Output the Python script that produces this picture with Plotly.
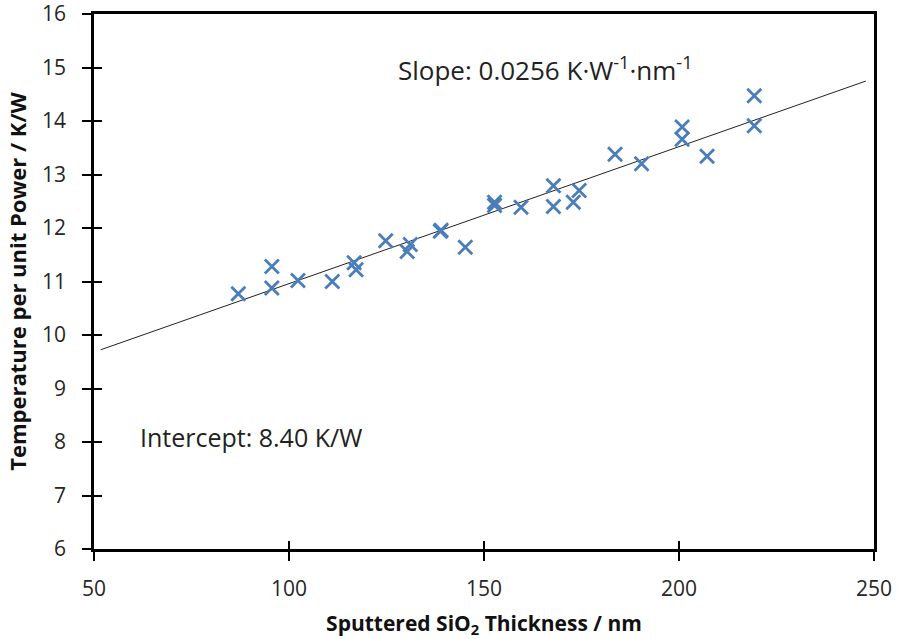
import plotly.graph_objects as go

thickness = [87.0, 95.6, 95.6, 102.3, 111.1, 116.7, 117.2, 124.8, 130.3, 131.1,
             138.8, 139.0, 145.2, 152.7, 152.7, 159.5, 167.8, 167.8, 172.9, 174.4,
             183.6, 190.4, 200.8, 200.8, 207.2, 219.3, 219.3]
temp_per_power = [10.77, 11.28, 10.88, 11.02, 11.00, 11.35, 11.22, 11.76, 11.56, 11.69,
                  11.94, 11.96, 11.64, 12.48, 12.42, 12.39, 12.79, 12.40, 12.48, 12.70,
                  13.38, 13.20, 13.89, 13.66, 13.34, 14.47, 13.91]
slope = 0.0256
intercept = 8.40
fit_x = [51.7, 247.9]
fit_y = [intercept + slope * v for v in fit_x]
x_ticks = [50, 100, 150, 200, 250]
y_ticks = [6, 7, 8, 9, 10, 11, 12, 13, 14, 15, 16]

FONT = "Open Sans"
fig = go.Figure()
fig.add_trace(go.Scatter(x=fit_x, y=fit_y, mode="lines",
                         line=dict(color="#222222", width=1), showlegend=False,
                         hoverinfo="skip", cliponaxis=False))
fig.add_trace(go.Scatter(x=thickness, y=temp_per_power, mode="markers",
                         marker=dict(symbol="x-thin-open", size=14,
                                     line=dict(color="#4A7EBB", width=2.8),
                                     color="#4A7EBB"),
                         showlegend=False))

axis_common = dict(showgrid=False, zeroline=False, showline=True, linecolor="black",
                   linewidth=2.5, mirror=True, ticks="outside", ticklen=9, tickwidth=2,
                   automargin=False, ticklabeloverflow="allow",
                   tickcolor="black", tickfont=dict(family=FONT, size=21, color="#262626"))
fig.update_layout(
    width=898, height=639,
    margin=dict(l=94, r=24, t=14, b=90),
    paper_bgcolor="white", plot_bgcolor="white",
    xaxis=dict(range=[50, 250], tickvals=x_ticks, ticklabelstandoff=10, **axis_common,
               title=dict(text="<b>Sputtered SiO<sub>2</sub> Thickness / nm</b>",
                          font=dict(family=FONT, size=21, color="#111"), standoff=20)),
    yaxis=dict(range=[6, 16], tickvals=y_ticks, ticklabelstandoff=12, **axis_common,
               title=dict(text="<b>Temperature per unit Power / K/W</b>",
                          font=dict(family=FONT, size=22, color="#111"), standoff=10)),
    xaxis2=dict(range=[50, 250], tickvals=x_ticks, overlaying="x", anchor="y",
                showticklabels=False, ticks="inside", ticklen=8, tickwidth=2,
                tickcolor="black", showgrid=False, zeroline=False, showline=False),
    yaxis2=dict(range=[6, 16], tickvals=y_ticks, overlaying="y", anchor="x",
                showticklabels=False, ticks="inside", ticklen=8, tickwidth=2,
                tickcolor="black", showgrid=False, zeroline=False, showline=False),
    annotations=[
        dict(x=127.5, y=14.97, xref="x", yref="y", xanchor="left", yanchor="middle",
             text="Slope: 0.0256 K·W<sup>-1</sup>·nm<sup>-1</sup>", showarrow=False,
             font=dict(family=FONT, size=26, color="#222")),
        dict(x=61.2, y=8.09, xref="x", yref="y", xanchor="left", yanchor="middle",
             text="Intercept: 8.40 K/W", showarrow=False,
             font=dict(family=FONT, size=25, color="#222")),
    ],
)
fig.add_trace(go.Scatter(x=[None], y=[None], xaxis="x2", yaxis="y2", showlegend=False))
fig.write_html("out.html")
